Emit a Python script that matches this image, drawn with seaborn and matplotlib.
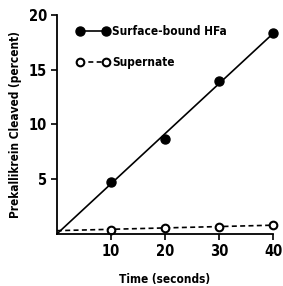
import matplotlib
matplotlib.use("Agg")
import matplotlib.pyplot as plt
from matplotlib.lines import Line2D
import seaborn as sns
import pandas as pd

# -----------------------------
# Data
# -----------------------------
time_s = [10, 20, 30, 40]
surface_bound = [4.7, 8.7, 14.0, 18.3]
supernate = [0.4, 0.5, 0.6, 0.8]

# fitted lines drawn through the points
fit_x = [0, 40]
surface_fit = [0, 18.3]
supernate_fit = [0.3, 0.8]

x_ticks = [10, 20, 30, 40]
y_ticks = [5, 10, 15, 20]

sns.set_style("ticks", {"axes.edgecolor": "black", "text.color": "black",
                        "axes.labelcolor": "black", "xtick.color": "black",
                        "ytick.color": "black"})
plt.rcParams["font.family"] = ["DejaVu Sans"]
plt.rcParams["font.stretch"] = "condensed"
plt.rcParams["font.weight"] = "bold"

df_pts = pd.DataFrame({"time": time_s, "surface": surface_bound, "supernate": supernate})
df_fit = pd.DataFrame({"time": fit_x, "surface": surface_fit, "supernate": supernate_fit})

fig = plt.figure(figsize=(2.83, 2.86), dpi=100)
ax = fig.add_axes([0.201, 0.182, 0.764, 0.766])

sns.lineplot(data=df_fit, x="time", y="surface", ax=ax, color="black", lw=1.2)
sns.lineplot(data=df_fit, x="time", y="supernate", ax=ax, color="black", lw=1.2,
             linestyle=(0, (3, 2)))
ax.plot(df_pts["time"], df_pts["surface"], "o", color="black", ms=6.5, clip_on=False)
ax.plot(df_pts["time"], df_pts["supernate"], "o", mfc="white", mec="black", mew=1.5,
        ms=5.5, clip_on=False)

ax.set_xlim(0, 40)
ax.set_ylim(0, 20)
ax.set_xticks(x_ticks)
ax.set_yticks(y_ticks)
ax.tick_params(labelsize=10.5, width=1.2, length=4, direction="out", pad=3)
for lab in ax.get_xticklabels() + ax.get_yticklabels():
    lab.set_fontweight("bold")
for s in ["left", "bottom"]:
    ax.spines[s].set_linewidth(1.3)
sns.despine(ax=ax)

ax.set_xlabel("Time (seconds)", fontsize=8.5, fontweight="bold", labelpad=10)
ax.set_ylabel("Prekallikrein Cleaved (percent)", fontsize=8.5, fontweight="bold", labelpad=5)

handles = [
    Line2D([0], [0], color="black", lw=1.2, marker="o", ms=6.5),
    Line2D([0], [0], color="black", lw=1.2, linestyle=(0, (3, 2)), marker="o",
           mfc="white", mec="black", mew=1.5, ms=5.5),
]
ax.legend(handles, ["Surface-bound HFa", "Supernate"], loc="upper left",
          bbox_to_anchor=(0.04, 1.0), frameon=False, numpoints=2,
          handlelength=2.8, handletextpad=0.25, labelspacing=1.5,
          prop={"size": 8.5, "weight": "bold", "stretch": "condensed"})

fig.savefig("out.png", dpi=100)
